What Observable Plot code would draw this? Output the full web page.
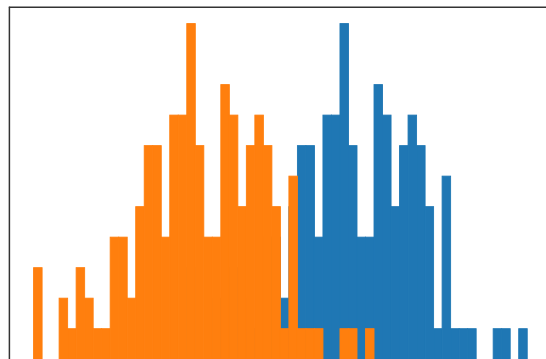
<!DOCTYPE html>
<html>
<head>
<meta charset="utf-8">
<script src="https://cdn.jsdelivr.net/npm/d3@7"></script>
<script src="https://cdn.jsdelivr.net/npm/@observablehq/plot@0.6"></script>
<style>
  html, body { margin: 0; padding: 0; background: #fff; }
  #chart svg { display: block; }
</style>
</head>
<body>
<div id="chart"></div>
<script>
// Shared bin grid: 58 equal-width bins, indexed 0..57
const binCount = 58;

// Counts per bin for the two samples (same bin edges)
const blueCounts = [
  0, 0, 0, 0, 0, 0, 0, 0, 0, 0,
  0, 0, 0, 0, 0, 0, 0, 0, 3, 0,
  0, 2, 1, 3, 2, 1, 1, 4, 4, 2,
  5, 7, 7, 4, 8, 8, 11, 7, 4, 4,
  9, 8, 5, 7, 8, 7, 5, 1, 6, 1,
  1, 1, 0, 0, 1, 1, 0, 1
];
const orangeCounts = [
  3, 0, 0, 2, 1, 3, 2, 1, 1, 4,
  4, 2, 5, 7, 7, 4, 8, 8, 11, 7,
  4, 4, 9, 8, 5, 7, 8, 7, 5, 1,
  6, 1, 1, 1, 0, 0, 1, 1, 0, 1,
  0, 0, 0, 0, 0, 0, 0, 0, 0, 0,
  0, 0, 0, 0, 0, 0, 0, 0
];

const seriesColors = { blue: "#1f77b4", orange: "#ff7f0e" };

// Axes limits: 5% padding on x, 5% headroom above the tallest bin
const xLimits = [-0.05 * binCount, binCount * 1.05];
const yMax = 1.05 * d3.max([...blueCounts, ...orangeCounts]);

const toBins = (counts) => counts.map((c, i) => ({ x1: i, x2: i + 1, count: c })).filter(d => d.count > 0);

// a thin stroke in the fill colour closes the seams between adjacent bars
const barStyle = (color) => ({ x1: "x1", x2: "x2", y: "count", fill: color, stroke: color, strokeWidth: 0.9, inset: 0 });

const chart = Plot.plot({
  width: 546,
  height: 359,
  marginTop: 0, marginRight: 0, marginBottom: 0, marginLeft: 0,
  x: { domain: xLimits, range: [8.9, 551.9], axis: null },
  y: { domain: [0, yMax], range: [359.2, 6.8], axis: null },
  marks: [
    Plot.rectY(toBins(blueCounts), barStyle(seriesColors.blue)),
    Plot.rectY(toBins(orangeCounts), barStyle(seriesColors.orange)),
    // axes spines (left and top)
    Plot.ruleX([xLimits[0]], { y1: 0, y2: yMax, stroke: "#333", strokeWidth: 1.5 }),
    Plot.ruleY([yMax], { x1: xLimits[0], x2: xLimits[1], stroke: "#333", strokeWidth: 1.5 })
  ]
});

document.getElementById("chart").appendChild(chart);
</script>
</body>
</html>
